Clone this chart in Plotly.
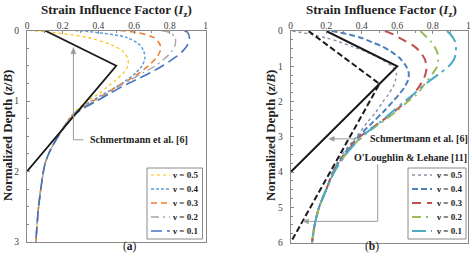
import plotly.graph_objects as go

# ---------------- data ----------------
nu_labels = ["ν = 0.5", "ν = 0.4", "ν = 0.3", "ν = 0.2", "ν = 0.1"]

# (a) normalized depth and strain influence factor
z_a = [0, 0.03, 0.1, 0.2, 0.3, 0.4, 0.5, 0.6, 0.7, 0.8, 0.9, 1.0, 1.1, 1.2, 1.35, 1.5, 1.7, 1.9, 2.2, 2.5, 2.8, 3.0]
iz_a_05 = [0.01, 0.15, 0.34, 0.47, 0.54, 0.565, 0.565, 0.54, 0.50, 0.45, 0.40, 0.34, 0.29, 0.25, 0.21, 0.175, 0.13, 0.10, 0.08, 0.065, 0.055, 0.05]
iz_a_04 = [0.27, 0.40, 0.56, 0.63, 0.655, 0.66, 0.645, 0.61, 0.56, 0.50, 0.43, 0.36, 0.30, 0.255, 0.21, 0.175, 0.13, 0.10, 0.08, 0.065, 0.055, 0.05]
iz_a_03 = [0.52, 0.62, 0.71, 0.745, 0.745, 0.72, 0.68, 0.63, 0.57, 0.50, 0.44, 0.37, 0.31, 0.26, 0.21, 0.175, 0.13, 0.10, 0.08, 0.065, 0.055, 0.05]
iz_a_02 = [0.75, 0.80, 0.83, 0.83, 0.81, 0.77, 0.72, 0.65, 0.58, 0.51, 0.45, 0.38, 0.31, 0.26, 0.21, 0.175, 0.13, 0.10, 0.08, 0.065, 0.055, 0.05]
iz_a_01 = [0.88, 0.90, 0.91, 0.90, 0.87, 0.82, 0.76, 0.69, 0.61, 0.53, 0.46, 0.39, 0.32, 0.265, 0.215, 0.175, 0.13, 0.10, 0.08, 0.065, 0.055, 0.05]
schm_a_z = [0, 0.5, 2]
schm_a_iz = [0.1, 0.5, 0]

# (b)
z_b = [0, 0.1, 0.2, 0.3, 0.45, 0.6, 0.8, 1.0, 1.2, 1.4, 1.6, 1.8, 2.0, 2.3, 2.6, 3.0, 3.5, 4.0, 4.5, 5.0, 5.5, 6.0]
iz_b_05 = [0.01, 0.12, 0.20, 0.27, 0.35, 0.43, 0.51, 0.57, 0.595, 0.59, 0.575, 0.55, 0.52, 0.48, 0.43, 0.37, 0.29, 0.235, 0.20, 0.16, 0.135, 0.12]
iz_b_04 = [0.23, 0.33, 0.40, 0.45, 0.52, 0.57, 0.62, 0.65, 0.665, 0.66, 0.64, 0.61, 0.575, 0.52, 0.46, 0.38, 0.30, 0.24, 0.20, 0.16, 0.135, 0.12]
iz_b_03 = [0.53, 0.58, 0.615, 0.65, 0.70, 0.73, 0.755, 0.765, 0.76, 0.745, 0.72, 0.69, 0.65, 0.58, 0.50, 0.39, 0.305, 0.24, 0.20, 0.16, 0.135, 0.12]
iz_b_02 = [0.73, 0.75, 0.77, 0.79, 0.81, 0.825, 0.83, 0.825, 0.80, 0.77, 0.74, 0.71, 0.66, 0.59, 0.51, 0.40, 0.31, 0.245, 0.20, 0.16, 0.135, 0.12]
iz_b_01 = [0.88, 0.90, 0.915, 0.925, 0.93, 0.93, 0.92, 0.89, 0.84, 0.785, 0.735, 0.69, 0.64, 0.57, 0.50, 0.40, 0.31, 0.245, 0.20, 0.16, 0.135, 0.12]
schm_b_z = [0, 1, 4]
schm_b_iz = [0.2, 0.6, 0]
oll_b_z = [0, 1.5, 6]
oll_b_iz = [0.1, 0.5, 0]

x_ticks = [0, 0.2, 0.4, 0.6, 0.8, 1]
x_ticktext = ["0", "0.2", "0.4", "0.6", "0.8", "1"]

# ---------------- styles ----------------
FONT = "Liberation Serif"
styles_a = [
    dict(color="#FFC000", dash="dot", width=1.2),
    dict(color="#5B9BD5", dash="3px,2px", width=1.4),
    dict(color="#ED7D31", dash="6px,4px", width=1.6),
    dict(color="#A5A5A5", dash="8px,4px,2px,4px", width=1.4),
    dict(color="#4472C4", dash="11px,5px", width=1.6),
]
styles_b = [
    dict(color="#8C92A8", dash="dot", width=1.4),
    dict(color="#4F81BD", dash="6px,3px", width=2),
    dict(color="#C0504D", dash="9px,6px", width=2),
    dict(color="#9BBB59", dash="9px,5px,2px,5px", width=2),
    dict(color="#4BACC6", dash="14px,5px,3px,5px", width=2),
]
LEADER = "#9a9a9a"

fig = go.Figure()

series_a = [iz_a_05, iz_a_04, iz_a_03, iz_a_02, iz_a_01]
for lab, iz, st in zip(nu_labels, series_a, styles_a):
    fig.add_trace(go.Scatter(x=iz, y=z_a, mode="lines", name=lab, showlegend=False,
                             line=dict(shape="spline", smoothing=0.8, **st), xaxis="x", yaxis="y"))
fig.add_trace(go.Scatter(x=schm_a_iz, y=schm_a_z, mode="lines", name="Schmertmann et al. [6]",
                         line=dict(color="#1a1a1a", width=1.8), showlegend=False, xaxis="x", yaxis="y"))

series_b = [iz_b_05, iz_b_04, iz_b_03, iz_b_02, iz_b_01]
for lab, iz, st in zip(nu_labels, series_b, styles_b):
    fig.add_trace(go.Scatter(x=iz, y=z_b, mode="lines", name=lab, showlegend=False,
                             line=dict(shape="spline", smoothing=0.8, **st), xaxis="x2", yaxis="y2"))
fig.add_trace(go.Scatter(x=schm_b_iz, y=schm_b_z, mode="lines", name="Schmertmann et al. [6]",
                         line=dict(color="#1a1a1a", width=2), showlegend=False, xaxis="x2", yaxis="y2"))
fig.add_trace(go.Scatter(x=oll_b_iz, y=oll_b_z, mode="lines", name="O'Loughlin & Lehane [11]",
                         line=dict(color="#1a1a1a", width=2, dash="6px,3px"),
                         showlegend=False, xaxis="x2", yaxis="y2"))

W, H = 473, 262
def px(x): return x / W
def py(y): return 1 - y / H

axis_common = dict(showline=True, linecolor="#8a8a8a", linewidth=1, mirror=True, showgrid=False, zeroline=False,
                   ticks="inside", ticklen=3, tickcolor="#8a8a8a",
                   tickfont=dict(family=FONT, size=9.5, color="#404040"))
xaxis_common = dict(axis_common, side="top", range=[0, 1], tickvals=x_ticks, ticktext=x_ticktext,
                    ticklabelstandoff=-3,
                    minor=dict(dtick=0.1, ticks="inside", ticklen=2, tickcolor="#8a8a8a"))
yminor = dict(dtick=0.25, ticks="inside", ticklen=2, tickcolor="#8a8a8a")

fig.update_layout(
    width=W, height=H, margin=dict(l=0, r=0, t=0, b=0, autoexpand=False),
    paper_bgcolor="white", plot_bgcolor="white", showlegend=False,
    font=dict(family=FONT, color="#222"),
    xaxis=dict(xaxis_common, domain=[px(27), px(205.5)], anchor="y"),
    yaxis=dict(axis_common, domain=[py(242), py(30.5)], range=[3, 0], dtick=1, anchor="x",
               ticklabelstandoff=5, minor=yminor),
    xaxis2=dict(xaxis_common, domain=[px(290.7), px(468.3)], anchor="y2"),
    yaxis2=dict(axis_common, domain=[py(242.5), py(31)], range=[6, 0], dtick=1, anchor="x2",
                ticklabelstandoff=5, minor=yminor),
)

ann = []
title_font = dict(family=FONT, size=13, color="#222")
for cx in (116, 381):
    ann.append(dict(text="<b>Strain Influence Factor (<i>I</i><sub>z</sub>)</b>", x=px(cx), y=1.0,
                    xref="paper", yref="paper", showarrow=False, font=title_font, xanchor="center", yanchor="top"))
for cx in (7, 270):
    ann.append(dict(text="<b>Normalized Depth (<i>z</i>/<i>B</i>)</b>", x=px(cx), y=py(136), textangle=-90,
                    xref="paper", yref="paper", showarrow=False, font=title_font, xanchor="center", yanchor="middle"))
ann.append(dict(text="(<b>a</b>)", x=px(121), y=py(255), xref="paper", yref="paper", showarrow=False,
                font=dict(family=FONT, size=11.5, color="#222")))
ann.append(dict(text="(<b>b</b>)", x=px(381), y=py(255), xref="paper", yref="paper", showarrow=False,
                font=dict(family=FONT, size=11.5, color="#222")))

lab_font = dict(family=FONT, size=10, color="#222")
ann.append(dict(text="<b>Schmertmann et al. [6]</b>", x=0.342, y=1.54, xref="x", yref="y", xanchor="left",
                showarrow=False, font=lab_font))
ann.append(dict(text="<b>Schmertmann et al. [6]</b>", x=0.434, y=3.06, xref="x2", yref="y2", xanchor="left",
                showarrow=False, font=lab_font))
ann.append(dict(text="<b>O'Loughlin &amp; Lehane [11]</b>", x=0.677, y=3.6, xref="x2", yref="y2", xanchor="center",
                showarrow=False, font=lab_font))

# ---- leader lines with arrowheads ----
def seg(x0, y0, x1, y1, xr, yr):
    fig.add_shape(type="line", x0=x0, x1=x1, y0=y0, y1=y1, xref=xr, yref=yr, line=dict(color=LEADER, width=1))

def tri(path, xr, yr):
    fig.add_shape(type="path", path=path, xref=xr, yref=yr, fillcolor=LEADER, line=dict(color=LEADER, width=0.5))

# (a): horizontal stub then vertical up to an upward arrowhead
seg(0.26, 1.55, 0.315, 1.55, "x", "y")
seg(0.26, 1.55, 0.26, 0.30, "x", "y")
tri("M 0.26 0.24 L 0.246 0.33 L 0.274 0.33 Z", "x", "y")
# (b): Schmertmann horizontal arrow (pointing left)
seg(0.40, 3.06, 0.24, 3.06, "x2", "y2")
tri("M 0.215 3.06 L 0.245 2.99 L 0.245 3.13 Z", "x2", "y2")
# (b): O'Loughlin & Lehane: vertical drop then horizontal arrow (pointing left)
seg(0.49, 3.78, 0.49, 5.4, "x2", "y2")
seg(0.49, 5.4, 0.095, 5.4, "x2", "y2")
tri("M 0.07 5.4 L 0.10 5.33 L 0.10 5.47 Z", "x2", "y2")

# ---- compact legends (box, line samples, labels) ----
leg_font = dict(family=FONT, size=9, color="#222")
def add_legend(box, sample_x, text_right, row_y, styles):
    x0, y0, x1, y1 = box
    fig.add_shape(type="rect", x0=px(x0), x1=px(x1), y0=py(y0), y1=py(y1), xref="paper", yref="paper",
                  line=dict(color="#8a8a8a", width=1), fillcolor="white", layer="above")
    for lab, st, yy in zip(nu_labels, styles, row_y):
        fig.add_shape(type="line", x0=px(sample_x[0]), x1=px(sample_x[1]), y0=py(yy), y1=py(yy),
                      xref="paper", yref="paper", layer="above",
                      line=dict(color=st["color"], dash=st["dash"], width=st["width"]))
        ann.append(dict(text="<b>" + lab + "</b>", x=px(text_right), y=py(yy), xref="paper", yref="paper",
                        xanchor="right", yanchor="middle", showarrow=False, font=leg_font))

rows = [175, 189, 203, 217, 231]
add_legend((147, 168, 202.5, 239), (151, 170), 200, rows, styles_a)
add_legend((408, 168, 466, 239), (412, 432), 464, rows, styles_b)

fig.update_layout(annotations=ann)
fig.write_html("out.html")
